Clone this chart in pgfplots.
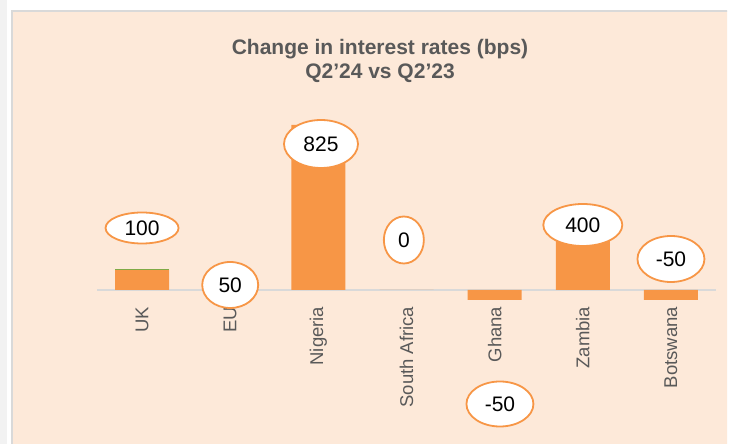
\documentclass[border=0pt]{standalone}
\usepackage{fontspec}
\setmainfont{Liberation Sans}
\usepackage{pgfplots}
\pgfplotsset{compat=1.18}
\usetikzlibrary{shapes.geometric}
\definecolor{panel}{RGB}{253,233,217}
\definecolor{barorange}{RGB}{247,150,70}
\definecolor{bargreen}{RGB}{112,173,71}
\definecolor{linegray}{RGB}{217,217,217}
\definecolor{txtgray}{RGB}{89,89,89}
\definecolor{stripgray}{RGB}{242,242,242}

\tikzset{lbl/.style={ellipse, draw=barorange, line width=1.8pt, fill=white,
  inner sep=0pt, font=\fontsize{21}{24}\selectfont, text=black}}

\begin{document}
\begin{tikzpicture}[x=1pt,y=1pt]
\useasboundingbox (0,0) rectangle (729,444);
\fill[white] (0,0) rectangle (729,444);
\fill[stripgray] (0,0) rectangle (7,444);
\begin{scope}
\clip (0,0) rectangle (727,444);
\fill[panel, draw=linegray, line width=2.5pt] (12,-10) rectangle (740,433);
\end{scope}
\node[font=\bfseries\fontsize{21}{24}\selectfont, text=txtgray, align=center]
  at (380,383) {Change in interest rates (bps)\\Q2’24 vs Q2’23};

\begin{axis}[
  at={(97pt,0pt)}, anchor=south west,
  scale only axis,
  width=619pt, height=354pt,
  xmin=-0.511, xmax=6.511,
  ymin=-770, ymax=1000,
  axis x line=middle, axis y line=none,
  x axis line style={-, draw=linegray, line width=2pt},
  xtick={0,...,6},
  xticklabels={UK, EU, Nigeria, South Africa, Ghana, Zambia, Botswana},
  xtick style={draw=none},
  xticklabel shift=9pt,
  xticklabel style={rotate=90, anchor=east, text=txtgray,
    font=\fontsize{18.5}{20}\selectfont},
  ybar, bar width=54pt,
  clip=false,
]
\addplot[fill=bargreen, draw=none, bar shift=0pt] coordinates {(0,107)};
\addplot[fill=barorange, draw=none, bar shift=0pt]
  coordinates {(0,100)(1,50)(2,825)(3,0)(4,-50)(5,400)(6,-50)};
\node[lbl, minimum width=73pt, minimum height=31pt] at (axis cs:0,310) {100};
\node[lbl, minimum width=56pt, minimum height=46pt] at (axis cs:1,25) {50};
\node[lbl, minimum width=74pt, minimum height=48pt] at (axis cs:2.03,730) {825};
\node[lbl, minimum width=40pt, minimum height=47pt] at (axis cs:2.97,250) {0};
\node[lbl, minimum width=67pt, minimum height=45pt] at (axis cs:4.06,-570) {-50};
\node[lbl, minimum width=79pt, minimum height=42pt] at (axis cs:5,325) {400};
\node[lbl, minimum width=67pt, minimum height=46pt] at (axis cs:6,155) {-50};
\end{axis}
\end{tikzpicture}
\end{document}
